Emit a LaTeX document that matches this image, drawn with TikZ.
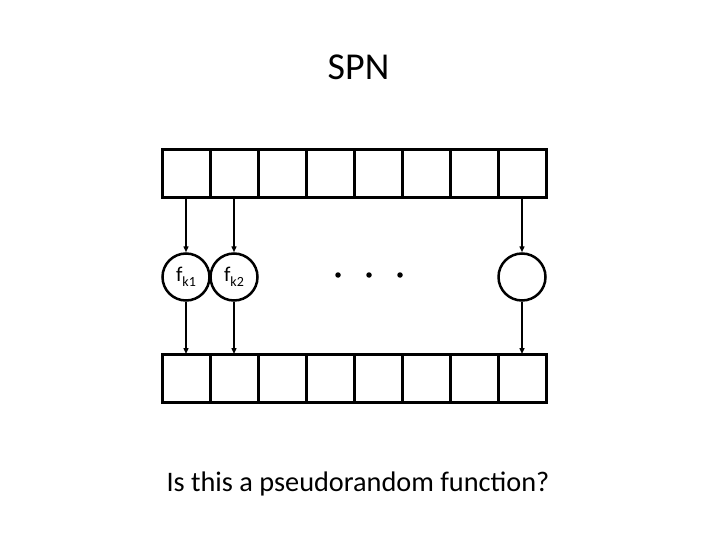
\documentclass[tikz,border=0pt]{standalone}
\usepackage{fontspec}
\setmainfont{Carlito}
\usetikzlibrary{arrows.meta,positioning}

\begin{document}
\begin{tikzpicture}[x=1pt, y=-1pt,
   cell/.style={draw, line width=3pt, minimum width=48pt, minimum height=48pt,
                inner sep=0pt, outer sep=0pt},
   sbox/.style={draw, circle, line width=2.5pt, minimum size=47pt, inner sep=0pt},
   dot/.style={circle, fill, inner sep=0pt, minimum size=5.5pt},
   >={Triangle[length=6pt,width=5pt]}, link/.style={->, line width=1.4pt}]
\useasboundingbox (0,0) rectangle (720,540);
% title
\node[font=\fontsize{38}{46}\selectfont] (title) at (358.5,67) {SPN};
% input and output rows
\node[cell] (t1) at (186,174) {};
\node[cell] (b1) at (186,378) {};
\foreach \i [evaluate=\i as \j using int(\i-1)] in {2,...,8} {
  \node[cell, right=0pt of t\j] (t\i) {};
  \node[cell, right=0pt of b\j] (b\i) {};
}
% round functions
\node[sbox, font=\fontsize{21}{24}\selectfont] (c1) at (186,277) {f\raisebox{-0.5ex}{\fontsize{14}{16}\selectfont k1}};
\node[sbox, font=\fontsize{21}{24}\selectfont] (c2) at (234,277) {f\raisebox{-0.5ex}{\fontsize{14}{16}\selectfont k2}};
\node[sbox] (c8) at (522,277) {};
\node[dot] (d1) at (338,275) {};
\node[dot] (d2) at (369,275) {};
\node[dot] (d3) at (400,275) {};
\foreach \k in {1,2,8} {
  \draw[link] (t\k) -- (c\k);
  \draw[link] (c\k) -- (b\k);
}
\node[font=\fontsize{28.3}{34}\selectfont] (question) at (358,484) {Is this a pseudorandom function?};
\end{tikzpicture}
\end{document}
